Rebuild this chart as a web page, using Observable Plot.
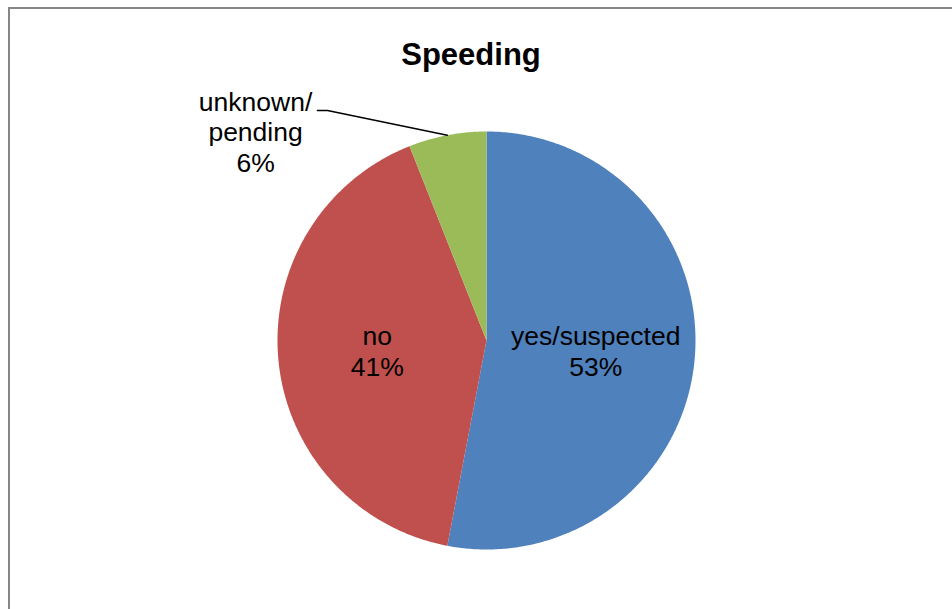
<!DOCTYPE html>
<html>
<head>
<meta charset="utf-8">
<script src="https://cdn.jsdelivr.net/npm/d3@7"></script>
<script src="https://cdn.jsdelivr.net/npm/@observablehq/plot@0.6"></script>
<style>
  html, body { margin: 0; padding: 0; background: #fff; overflow: hidden; }
  #wrap { position: relative; width: 952px; height: 609px; overflow: hidden; font-family: "Liberation Sans", Arial, sans-serif; }
  #frame { position: absolute; left: 8px; top: 7px; width: 1100px; height: 800px; border: 2px solid #868686; box-sizing: border-box; }
  #title { position: absolute; left: 0; width: 942px; top: 39px; text-align: center; font-size: 31px; font-weight: bold; line-height: 31px; color: #000; }
  #chart { position: absolute; left: 0; top: 0; }
</style>
</head>
<body>
<div id="wrap">
  <div id="frame"></div>
  <div id="chart"></div>
  <div id="title">Speeding</div>
</div>
<script>
// Data
const categories = ["yes/suspected", "no", "unknown/\npending"];
const values = [53, 41, 6];
const valueLabels = ["53%", "41%", "6%"];
const colors = ["#4F81BD", "#C0504D", "#9BBB59"];

// Layout (pixel geometry of the pie)
const W = 952, H = 609, CX = 486, CY = 340, R = 209;
const xDomain = [-CX / R, (W - CX) / R];
const yDomain = [-(H - CY) / R, CY / R];

const pie = d3.pie().sort(null).value(d => d)(values);

function slicePoints(arc) {
  const pts = [{x: 0, y: 0}];
  const n = Math.max(4, Math.ceil((arc.endAngle - arc.startAngle) / 0.01));
  for (let i = 0; i <= n; i++) {
    const a = arc.startAngle + (arc.endAngle - arc.startAngle) * i / n;
    pts.push({x: Math.sin(a), y: Math.cos(a)});
  }
  pts.push({x: 0, y: 0});
  return pts;
}

const sliceMarks = pie.map((arc, i) =>
  Plot.line(slicePoints(arc), {x: "x", y: "y", fill: colors[i], stroke: "none", curve: "linear"})
);

// Inside labels at a fraction of the radius
const insideR = 0.525;
const inside = pie.slice(0, 2).map((arc, i) => {
  const a = (arc.startAngle + arc.endAngle) / 2;
  return {x: insideR * Math.sin(a), y: insideR * Math.cos(a), text: categories[i] + "\n" + valueLabels[i]};
});

// Outside label (unknown/pending) with a leader line
const outLabel = {x: -1.105, y: 1.0, text: categories[2] + "\n" + valueLabels[2]};
const midOut = (pie[2].startAngle + pie[2].endAngle) / 2;
const leader = [
  {x: Math.sin(midOut), y: Math.cos(midOut)},
  {x: -0.761, y: 1.10},
  {x: -0.809, y: 1.10}
];

const chart = Plot.plot({
  width: W,
  height: H,
  margin: 0,
  style: {background: "transparent", overflow: "visible"},
  x: {domain: xDomain, axis: null},
  y: {domain: yDomain, axis: null},
  marks: [
    ...sliceMarks,
    Plot.line(leader, {x: "x", y: "y", stroke: "#000", strokeWidth: 1.5}),
    Plot.text(inside, {x: "x", y: "y", text: "text", fontSize: 26.5, lineHeight: 1.14, fill: "#000", fontFamily: "Liberation Sans, Arial, sans-serif"}),
    Plot.text([outLabel], {x: "x", y: "y", text: "text", fontSize: 26.5, lineHeight: 1.15, fill: "#000", fontFamily: "Liberation Sans, Arial, sans-serif"})
  ]
});
document.getElementById("chart").appendChild(chart);
</script>
</body>
</html>
